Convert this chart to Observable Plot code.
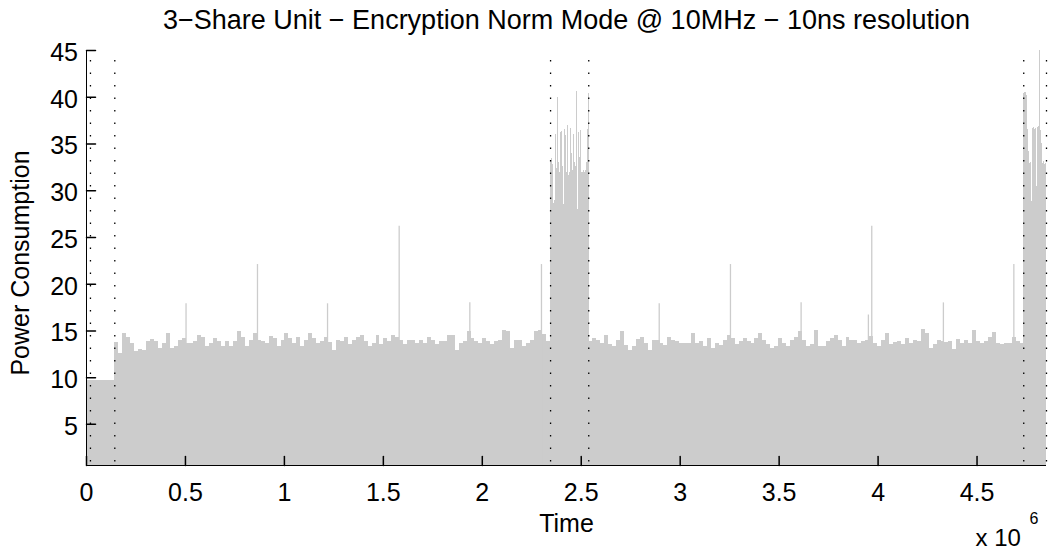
<!DOCTYPE html>
<html><head><meta charset="utf-8">
<script src="https://cdn.jsdelivr.net/npm/d3@7"></script>
<script src="https://cdn.jsdelivr.net/npm/@observablehq/plot@0.6"></script>
<style>body{margin:0;background:#fff} #chart svg{display:block}</style>
</head><body><div id="chart"></div>
<script>
// ---- data ----
const titleText = "3\u2212Share Unit \u2212 Encryption Norm Mode @ 10MHz \u2212 10ns resolution";
const xLabel = "Time";
const yLabel = "Power Consumption";
const yMin = 0.6, yMax = 45;
const xMax = 4.851e6;
const xTicks = [0, 0.5e6, 1e6, 1.5e6, 2e6, 2.5e6, 3e6, 3.5e6, 4e6, 4.5e6];
const yTicks = [5, 10, 15, 20, 25, 30, 35, 40, 45];

// idle phase before the first trigger
const idleStart = 0.003e6, idleEnd = 0.143e6, idleLevel = 9.7;

// envelope of the power trace, sampled every 20 000 time units
const noiseStep = 2e4;
const seg1Start = 0.143e6;
const seg1 = [13.8,12.6,14.7,14.3,13.6,12.8,13.0,12.9,13.9,14.1,
  13.9,13.1,13.6,14.7,13.1,13.3,14.0,14.2,13.6,13.6,
  13.9,14.5,14.3,13.3,13.6,14.2,13.9,13.3,13.9,13.3,
  13.9,14.9,14.3,13.3,14.0,14.7,14.0,13.9,13.6,14.4,
  14.2,13.3,14.0,14.7,14.2,13.6,14.3,13.3,14.0,14.7,
  14.2,13.6,13.9,14.3,13.8,12.9,14.0,13.9,14.3,13.5,
  14.0,14.3,14.5,13.9,13.3,13.6,14.5,13.5,14.2,13.9,
  14.5,14.3,14.0,13.5,14.0,14.0,13.6,14.0,13.6,14.3,
  14.0,13.5,13.9,13.9,14.5,14.5,12.9,13.6,13.9,14.9,
  14.2,13.9,13.6,14.2,13.9,13.5,13.9,14.0,15.0,14.9,
  13.1,14.0,14.0,13.3,13.6,14.0,14.9,15.0,14.6,13.9];
const seg2Start = 2.538e6;
const seg2 = [13.9,14.2,14.0,13.7,14.5,13.5,13.3,14.0,14.9,13.4,
  12.9,13.3,14.1,14.3,13.6,12.9,14.0,14.0,13.6,13.4,
  14.3,14.0,13.9,13.6,13.6,13.6,14.7,13.6,13.9,13.3,
  14.2,13.1,13.6,13.4,14.0,14.5,14.2,13.5,13.9,14.2,
  13.9,13.6,14.2,14.7,14.0,13.5,13.1,13.3,14.2,13.6,
  13.3,14.0,14.3,14.9,14.0,13.3,13.5,15.0,13.3,13.3,
  13.9,14.2,14.5,14.0,13.3,14.3,14.0,14.0,13.6,13.9,
  14.0,14.4,13.6,13.3,14.0,14.7,13.5,13.8,13.9,13.5,
  14.2,13.6,14.0,13.9,15.2,14.7,13.1,13.5,14.0,13.9,
  13.8,13.9,13.0,14.1,13.6,14.0,13.6,15.0,13.9,13.6,
  13.9,14.3,14.8,13.7,13.5,13.6,13.7,14.3,13.9,13.6];

// encryption bursts, sampled every 5 000 time units
const burstStep = 5e3;
const burst1Start = 2.345e6;
const burst1 = [33.2,33.4,32.8,28.6,29.0,36.0,32.4,40.0,33.0,31.9,
  36.2,36.3,32.6,28.5,36.6,35.9,31.9,37.0,31.6,32.0,
  36.7,34.0,32.2,36.0,33.0,32.6,40.6,28.0,36.2,33.5,
  36.4,32.0,31.9,32.2,32.0,32.2,33.0,36.6,40.4];
const burst2Start = 4.736e6;
const burst2 = [40.4,40.5,40.5,40.2,36.5,34.2,32.9,33.0,28.8,36.7,
  36.8,36.5,36.7,30.5,36.8,36.9,45.0,36.4,35.0,32.9,
  33.1,32.8,32.9];

// isolated single-sample peaks
const spikeTimes = [0.503e6, 0.864e6, 1.218e6, 1.580e6, 1.937e6, 2.299e6,
  2.894e6, 3.254e6, 3.611e6, 3.951e6, 3.968e6, 4.330e6, 4.686e6];
const spikeValues = [17.9, 22.1, 17.9, 26.2, 18.0, 22.1,
  17.9, 22.1, 18.0, 16.7, 26.2, 18.0, 22.1];

// trigger markers (dotted vertical lines)
const markers = [0.02e6, 0.143e6, 2.345e6, 2.538e6, 4.736e6, 4.851e6];

// ---- build table ----
const rows = [{t1: idleStart, t2: idleEnd, v: idleLevel}];
const addSeries = (start, step, vals) => vals.forEach((v, i) => rows.push({t1: start + i * step, t2: start + (i + 1) * step, v}));
addSeries(seg1Start, noiseStep, seg1);
addSeries(seg2Start, noiseStep, seg2);
addSeries(burst1Start, burstStep, burst1);
addSeries(burst2Start, burstStep, burst2);
const spikes = spikeTimes.map((t, i) => ({t, v: spikeValues[i]}));

const tickShape = {draw(ctx, l) { ctx.moveTo(0, 0); ctx.lineTo(0, -l); }};
const font = "'Liberation Sans', Arial, Helvetica, sans-serif";
const gray = "#cccccc";

const chart = Plot.plot({
  width: 1049, height: 549,
  marginTop: 50, marginBottom: 84, marginLeft: 86, marginRight: 3,
  style: {fontFamily: font, background: "#fff", color: "#000", overflow: "visible"},
  x: {domain: [0, xMax]},
  y: {domain: [yMin, yMax]},
  marks: [
    Plot.rectY(rows, {x1: "t1", x2: "t2", y1: () => yMin, y2: "v", fill: gray, shapeRendering: "crispEdges"}),
    Plot.ruleX(spikes, {x: "t", y1: () => yMin, y2: "v", stroke: gray, strokeWidth: 1.3}),
    Plot.ruleX(markers, {stroke: "#000", strokeWidth: 1.3, strokeDasharray: "1.5 11", strokeDashoffset: 2.5}),
    Plot.ruleX([0], {stroke: "#000"}),
    Plot.ruleY([yMin], {stroke: "#000"}),
    Plot.vector(xTicks, {x: d => d, y: () => yMin, length: 9, rotate: 0, anchor: "start", shape: tickShape, stroke: "#000"}),
    Plot.vector(yTicks, {x: () => 0, y: d => d, length: 9, rotate: 90, anchor: "start", shape: tickShape, stroke: "#000"}),
    Plot.axisX(xTicks, {tickSize: 0, tickPadding: 17.5, tickFormat: d => String(d / 1e6), fontSize: 25, label: null}),
    Plot.axisY(yTicks, {tickSize: 0, tickPadding: 8.5, dy: 2.5, fontSize: 25, label: null}),
    Plot.text([titleText], {frameAnchor: "top", dy: -21.5, lineAnchor: "bottom", fontSize: 27}),
    Plot.text([xLabel], {frameAnchor: "bottom", dy: 66, lineAnchor: "bottom", fontSize: 25}),
    Plot.text([yLabel], {frameAnchor: "left", dx: -58, dy: 5, lineAnchor: "bottom", textAnchor: "middle", rotate: -90, fontSize: 25}),
    Plot.text(["x 10"], {frameAnchor: "bottom-right", dx: -71, dy: 80, textAnchor: "start", lineAnchor: "bottom", fontSize: 24}),
    Plot.text(["6"], {frameAnchor: "bottom-right", dx: -17, dy: 58, textAnchor: "start", lineAnchor: "bottom", fontSize: 16})
  ]
});
document.getElementById("chart").append(chart);
</script>
</body></html>
